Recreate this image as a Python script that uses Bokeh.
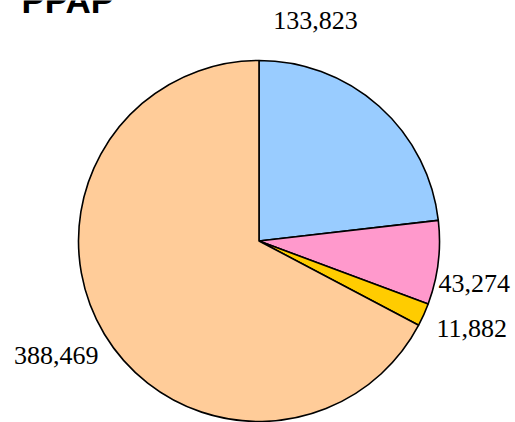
import math
from bokeh.plotting import figure
from bokeh.models import Range1d, ColumnDataSource
from bokeh.core.properties import value
from bokeh.embed import file_html
from bokeh.resources import INLINE

# ---- data ----
title = "PPAP"
categories = ["A", "B", "C", "D"]
values = [133823, 43274, 11882, 388469]
labels = ["133,823", "43,274", "11,882", "388,469"]
colors = ["#99CCFF", "#FF99CC", "#FFCC00", "#FFCC99"]

# ---- layout (screen pixels of the page) ----
W, H = 515, 422

def sx(x):
    return x

def sy(y):
    return H - y

cx, cy, R = sx(258.5), sy(240.5), 180.5
# label anchors (screen px): x, baseline y, alignment
label_pos = [(315, 20, "center"), (438, 283, "left"), (436, 328, "left"), (98, 355, "right")]

total = float(sum(values))
starts, ends = [], []
cum = 0.0
for v in values:
    a0 = math.pi / 2 - 2 * math.pi * cum / total
    cum += v
    a1 = math.pi / 2 - 2 * math.pi * cum / total
    starts.append(a0)
    ends.append(a1)

src = ColumnDataSource(dict(cat=categories, val=values, start=starts, end=ends, color=colors))

p = figure(width=W, height=H, output_backend="svg", toolbar_location=None,
           x_range=Range1d(0, W), y_range=Range1d(0, H),
           min_border=0, min_border_left=0, min_border_right=0,
           min_border_top=0, min_border_bottom=0)
p.axis.visible = False
p.grid.visible = False
p.outline_line_color = None
p.background_fill_color = "white"

p.wedge(x=cx, y=cy, radius=R, start_angle="start", end_angle="end", direction="clock",
        fill_color="color", line_color="black", line_width=1.6, source=src)

for (lx, ly, al), t in zip(label_pos, labels):
    p.text(x=[sx(lx)], y=[sy(ly)], text=[t], text_align=al, text_baseline="alphabetic",
           text_font=value("Liberation Serif"), text_font_size="26px", text_color="black")

p.text(x=[sx(21)], y=[sy(0)], text=[title], text_align="left", text_baseline="alphabetic",
       text_font=value("Liberation Sans"), text_font_style="bold", text_font_size="35px",
       text_color="black")

open("out.html", "w").write(file_html(p, INLINE))
